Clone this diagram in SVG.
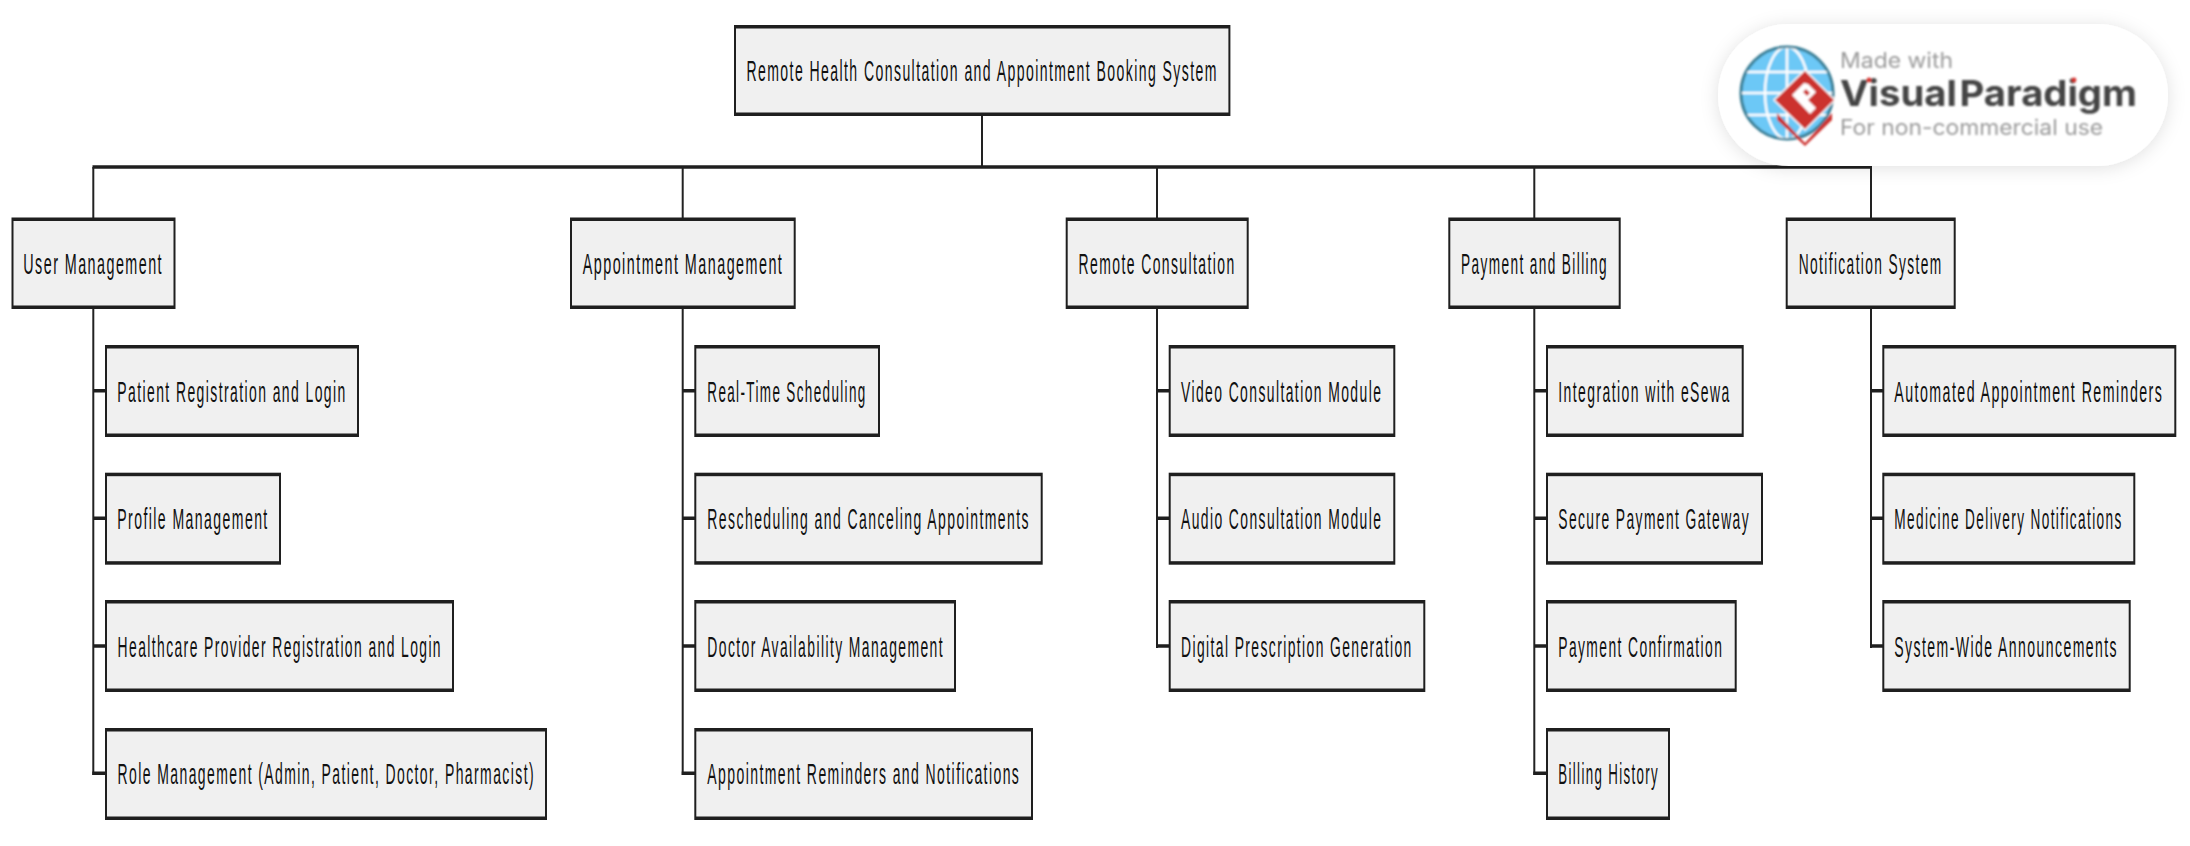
<svg xmlns="http://www.w3.org/2000/svg" width="2190" height="846" viewBox="0 0 2190 846">
<style>
.o{fill:#1f1f1f}
.i{fill:#f0f0f0}
.t{font-family:"Liberation Sans",Arial,sans-serif;font-size:14.3px;letter-spacing:1.45px;fill:#111}
.v{stroke:#222;stroke-width:2;fill:none}
.h{stroke:#1f1f1f;stroke-width:3.6;fill:none}
.wm{font-family:"Inter","Open Sans",sans-serif}
</style>
<defs>
<filter id="sh" x="-15%" y="-30%" width="130%" height="160%"><feDropShadow dx="0" dy="2" stdDeviation="9" flood-color="#000" flood-opacity="0.12"/></filter>
<filter id="bl" x="-5%" y="-5%" width="110%" height="110%"><feGaussianBlur stdDeviation="0.8"/></filter>
<clipPath id="gc"><circle cx="1787" cy="93" r="45"/></clipPath>
</defs>
<rect width="2190" height="846" fill="#fff"/>
<g id="connectors">
<line class="v" x1="982" y1="116" x2="982" y2="167"/>
<line class="h" x1="92.5" y1="167" x2="1872" y2="167"/>
<line class="v" x1="93.3" y1="167" x2="93.3" y2="218"/>
<line class="v" x1="682.7" y1="167" x2="682.7" y2="218"/>
<line class="v" x1="1157" y1="167" x2="1157" y2="218"/>
<line class="v" x1="1534.3" y1="167" x2="1534.3" y2="218"/>
<line class="v" x1="1871" y1="167" x2="1871" y2="218"/>
<line class="v" x1="93.3" y1="309" x2="93.3" y2="775"/>
<line class="v" x1="682.7" y1="309" x2="682.7" y2="775"/>
<line class="v" x1="1157" y1="309" x2="1157" y2="648"/>
<line class="v" x1="1534.3" y1="309" x2="1534.3" y2="775"/>
<line class="v" x1="1871" y1="309" x2="1871" y2="648"/>
<path class="h" d="M93 390.7H105M93 518.3H105M93 646H105M92.3 773.3H105"/>
<path class="h" d="M683 390.7H695M683 518.3H695M683 646H695M681.7 773.3H695"/>
<path class="h" d="M1157 390.7H1169M1157 518.3H1169M1156 646H1169"/>
<path class="h" d="M1534 390.7H1546M1534 518.3H1546M1534 646H1546M1533.3 773.3H1546"/>
<path class="h" d="M1871 390.7H1883M1871 518.3H1883M1870 646H1883"/>
</g>
<g id="root"><rect class="o" x="734" y="25" width="496.4" height="91"/><rect class="i" x="736" y="28.5" width="492.4" height="84"/><text class="t" transform="translate(746.4 80.7) scale(1 2.03)" textLength="471.5" lengthAdjust="spacingAndGlyphs">Remote Health Consultation and Appointment Booking System</text></g>
<g id="user-management"><rect class="o" x="11.5" y="217.5" width="164" height="91.5"/><rect class="i" x="13.5" y="221" width="160" height="84.5"/><text class="t" transform="translate(23.3 274) scale(1 2.03)" textLength="139.7" lengthAdjust="spacingAndGlyphs">User Management</text></g>
<g id="appointment-management"><rect class="o" x="570" y="217.5" width="225.7" height="91.5"/><rect class="i" x="572" y="221" width="221.7" height="84.5"/><text class="t" transform="translate(582.7 274) scale(1 2.03)" textLength="200.6" lengthAdjust="spacingAndGlyphs">Appointment Management</text></g>
<g id="remote-consultation"><rect class="o" x="1065.7" y="217.5" width="183" height="91.5"/><rect class="i" x="1067.7" y="221" width="179" height="84.5"/><text class="t" transform="translate(1078.6 274) scale(1 2.03)" textLength="157" lengthAdjust="spacingAndGlyphs">Remote Consultation</text></g>
<g id="payment-billing"><rect class="o" x="1448.3" y="217.5" width="172.4" height="91.5"/><rect class="i" x="1450.3" y="221" width="168.4" height="84.5"/><text class="t" transform="translate(1461 274) scale(1 2.03)" textLength="147" lengthAdjust="spacingAndGlyphs">Payment and Billing</text></g>
<g id="notification-system"><rect class="o" x="1785.7" y="217.5" width="170" height="91.5"/><rect class="i" x="1787.7" y="221" width="166" height="84.5"/><text class="t" transform="translate(1798.7 274) scale(1 2.03)" textLength="144" lengthAdjust="spacingAndGlyphs">Notification System</text></g>
<g id="patient-registration"><rect class="o" x="105" y="345" width="254" height="92"/><rect class="i" x="107" y="348.5" width="250" height="85"/><text class="t" transform="translate(117.3 401.7) scale(1 2.03)" textLength="229.4" lengthAdjust="spacingAndGlyphs">Patient Registration and Login</text></g>
<g id="profile-management"><rect class="o" x="105" y="472.7" width="176" height="92"/><rect class="i" x="107" y="476.2" width="172" height="85"/><text class="t" transform="translate(117.3 529.3) scale(1 2.03)" textLength="151.4" lengthAdjust="spacingAndGlyphs">Profile Management</text></g>
<g id="provider-registration"><rect class="o" x="105" y="600" width="349" height="92"/><rect class="i" x="107" y="603.5" width="345" height="85"/><text class="t" transform="translate(117.6 657.3) scale(1 2.03)" textLength="324.4" lengthAdjust="spacingAndGlyphs">Healthcare Provider Registration and Login</text></g>
<g id="role-management"><rect class="o" x="105" y="728" width="442" height="92"/><rect class="i" x="107" y="731.5" width="438" height="85"/><text class="t" transform="translate(117.6 784.3) scale(1 2.03)" textLength="417.4" lengthAdjust="spacingAndGlyphs">Role Management (Admin, Patient, Doctor, Pharmacist)</text></g>
<g id="real-time"><rect class="o" x="694.3" y="345" width="185.7" height="92"/><rect class="i" x="696.3" y="348.5" width="181.7" height="85"/><text class="t" transform="translate(707.3 401.7) scale(1 2.03)" textLength="159.4" lengthAdjust="spacingAndGlyphs">Real-Time Scheduling</text></g>
<g id="rescheduling"><rect class="o" x="694.3" y="472.7" width="348.4" height="92"/><rect class="i" x="696.3" y="476.2" width="344.4" height="85"/><text class="t" transform="translate(707.3 529.3) scale(1 2.03)" textLength="322.7" lengthAdjust="spacingAndGlyphs">Rescheduling and Canceling Appointments</text></g>
<g id="doctor-availability"><rect class="o" x="694.3" y="600" width="261.7" height="92"/><rect class="i" x="696.3" y="603.5" width="257.7" height="85"/><text class="t" transform="translate(707.3 657.3) scale(1 2.03)" textLength="236.7" lengthAdjust="spacingAndGlyphs">Doctor Availability Management</text></g>
<g id="appointment-reminders"><rect class="o" x="694.3" y="728" width="338.7" height="92"/><rect class="i" x="696.3" y="731.5" width="334.7" height="85"/><text class="t" transform="translate(707.3 784.3) scale(1 2.03)" textLength="313" lengthAdjust="spacingAndGlyphs">Appointment Reminders and Notifications</text></g>
<g id="video-consultation"><rect class="o" x="1168.7" y="345" width="226.6" height="92"/><rect class="i" x="1170.7" y="348.5" width="222.6" height="85"/><text class="t" transform="translate(1181 401.7) scale(1 2.03)" textLength="201.3" lengthAdjust="spacingAndGlyphs">Video Consultation Module</text></g>
<g id="audio-consultation"><rect class="o" x="1168.7" y="472.7" width="226.6" height="92"/><rect class="i" x="1170.7" y="476.2" width="222.6" height="85"/><text class="t" transform="translate(1181 529.3) scale(1 2.03)" textLength="201.3" lengthAdjust="spacingAndGlyphs">Audio Consultation Module</text></g>
<g id="digital-prescription"><rect class="o" x="1168.7" y="600" width="256.6" height="92"/><rect class="i" x="1170.7" y="603.5" width="252.6" height="85"/><text class="t" transform="translate(1181 657.3) scale(1 2.03)" textLength="231.7" lengthAdjust="spacingAndGlyphs">Digital Prescription Generation</text></g>
<g id="integration-esewa"><rect class="o" x="1546" y="345" width="197.7" height="92"/><rect class="i" x="1548" y="348.5" width="193.7" height="85"/><text class="t" transform="translate(1558.3 401.7) scale(1 2.03)" textLength="172.4" lengthAdjust="spacingAndGlyphs">Integration with eSewa</text></g>
<g id="secure-payment"><rect class="o" x="1546" y="472.7" width="217" height="92"/><rect class="i" x="1548" y="476.2" width="213" height="85"/><text class="t" transform="translate(1558.3 529.3) scale(1 2.03)" textLength="191.7" lengthAdjust="spacingAndGlyphs">Secure Payment Gateway</text></g>
<g id="payment-confirmation"><rect class="o" x="1546" y="600" width="190.7" height="92"/><rect class="i" x="1548" y="603.5" width="186.7" height="85"/><text class="t" transform="translate(1558.3 657.3) scale(1 2.03)" textLength="165" lengthAdjust="spacingAndGlyphs">Payment Confirmation</text></g>
<g id="billing-history"><rect class="o" x="1546" y="728" width="124" height="92"/><rect class="i" x="1548" y="731.5" width="120" height="85"/><text class="t" transform="translate(1558.3 784.3) scale(1 2.03)" textLength="100.7" lengthAdjust="spacingAndGlyphs">Billing History</text></g>
<g id="automated-reminders"><rect class="o" x="1882.3" y="345" width="294" height="92"/><rect class="i" x="1884.3" y="348.5" width="290" height="85"/><text class="t" transform="translate(1894.3 401.7) scale(1 2.03)" textLength="269" lengthAdjust="spacingAndGlyphs">Automated Appointment Reminders</text></g>
<g id="medicine-delivery"><rect class="o" x="1882.3" y="472.7" width="253" height="92"/><rect class="i" x="1884.3" y="476.2" width="249" height="85"/><text class="t" transform="translate(1894.3 529.3) scale(1 2.03)" textLength="228.4" lengthAdjust="spacingAndGlyphs">Medicine Delivery Notifications</text></g>
<g id="system-announcements"><rect class="o" x="1882.3" y="600" width="248.4" height="92"/><rect class="i" x="1884.3" y="603.5" width="244.4" height="85"/><text class="t" transform="translate(1894.3 657.3) scale(1 2.03)" textLength="223.7" lengthAdjust="spacingAndGlyphs">System-Wide Announcements</text></g>
<g id="watermark">
<rect x="1718" y="24" width="450" height="142" rx="71" fill="#fff" filter="url(#sh)"/>
<g filter="url(#bl)">
<circle cx="1787" cy="93" r="46" fill="#6cc8f6" stroke="#3b7f96" stroke-width="3"/>
<g clip-path="url(#gc)" stroke="#fff" stroke-width="2.5" fill="none">
<ellipse cx="1787" cy="93" rx="22" ry="46"/>
<line x1="1787" y1="46" x2="1787" y2="140"/>
<line x1="1740" y1="72" x2="1834" y2="72"/>
<line x1="1740" y1="93" x2="1834" y2="93"/>
<line x1="1740" y1="115" x2="1834" y2="115"/>
</g>
<polygon points="1805,69 1836,100 1805,131 1773,100" fill="#fff"/>
<polygon points="1805,71 1834,100 1805,129 1775,100" fill="#cc322e"/>
<polygon points="1777,113 1805,143 1832,113 1832,120 1805,146 1777,120" fill="#cc322e"/>
<polygon points="1804,83 1792,95 1810,114 1816,108 1808,100 1816,92 1808,84" fill="#fff"/>
<polygon points="1803,92 1806,89 1810,93 1807,96" fill="#cc322e"/>
<text class="wm" x="1840" y="68" font-size="21" fill="#9a9a9a" textLength="113" lengthAdjust="spacingAndGlyphs">Made with</text>
<text class="wm" x="1840" y="106" font-size="36" font-weight="700" fill="#444" word-spacing="-6" textLength="297" lengthAdjust="spacingAndGlyphs">Visual Paradigm</text>
<text class="wm" x="1840" y="135" font-size="21" fill="#9a9a9a" textLength="263" lengthAdjust="spacingAndGlyphs">For non-commercial use</text>
<circle cx="1869" cy="80" r="2.4" fill="#d8352f"/>
<circle cx="2074" cy="80" r="2.4" fill="#d8352f"/>
</g>
</g>
</svg>
